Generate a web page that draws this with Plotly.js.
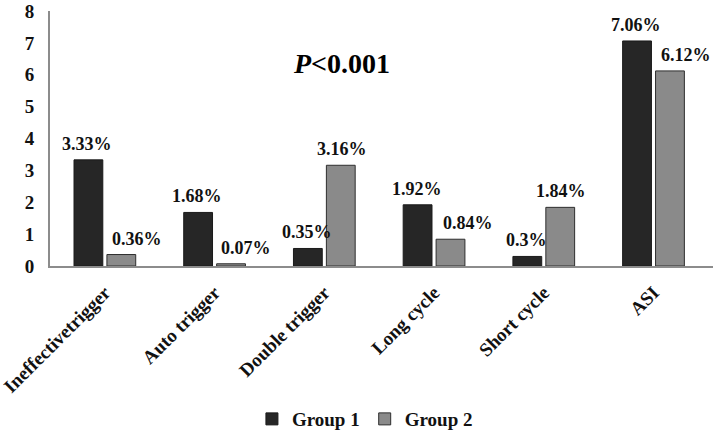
<!DOCTYPE html>
<html>
<head>
<meta charset="utf-8">
<script src="https://cdn.plot.ly/plotly-3.0.1.min.js"></script>
<style>html,body{margin:0;padding:0;background:#fff;}#chart{width:720px;height:432px;}</style>
</head>
<body>
<div id="chart"></div>
<script>
const categories = ["Ineffectivetrigger", "Auto trigger", "Double trigger", "Long cycle", "Short cycle", "ASI"];
const group1 = [3.33, 1.68, 0.55, 1.92, 0.30, 7.06];
const group2 = [0.36, 0.07, 3.16, 0.84, 1.84, 6.12];
const group1Labels = ["3.33%", "1.68%", "0.35%", "1.92%", "0.3%", "7.06%"];
const group2Labels = ["0.36%", "0.07%", "3.16%", "0.84%", "1.84%", "6.12%"];
const yTicks = [0, 1, 2, 3, 4, 5, 6, 7, 8];

// style: horizontal nudge of value labels (px)
const g2LabelNudge = [15, 14, 0, 16, 0, 15];

const FONT = "Times New Roman, Liberation Serif, serif";

const traces = [
  {type: 'bar', name: 'Group 1', x: categories, y: group1,
   marker: {color: '#262626', line: {color: '#1a1a1a', width: 1}}, hoverinfo: 'none'},
  {type: 'bar', name: 'Group 2', x: categories, y: group2,
   marker: {color: '#8a8a8a', line: {color: '#2e2e2e', width: 1}}, hoverinfo: 'none'}
];

const annotations = [];
categories.forEach((c, i) => {
  annotations.push({x: c, y: group1[i], xref: 'x', yref: 'y', text: '<b>' + group1Labels[i] + '</b>',
    showarrow: false, yanchor: 'bottom', yshift: 4, xshift: -17.5,
    font: {family: FONT, size: 18, color: '#111'}});
  annotations.push({x: c, y: group2[i], xref: 'x', yref: 'y', text: '<b>' + group2Labels[i] + '</b>',
    showarrow: false, yanchor: 'bottom', yshift: 4, xshift: 17.5 + g2LabelNudge[i],
    font: {family: FONT, size: 18, color: '#111'}});
});
annotations.push({xref: 'paper', yref: 'paper', x: 0.44, y: 0.795, xanchor: 'center', yanchor: 'middle',
  text: '<b><i>P</i>&lt;0.001</b>', showarrow: false,
  font: {family: FONT, size: 28, color: '#000'}});

const layout = {
  width: 720, height: 432,
  font: {family: FONT},
  margin: {l: 50, r: 7, t: 11, b: 166},
  paper_bgcolor: '#fff', plot_bgcolor: '#fff',
  barmode: 'group', bargap: 0.4, bargroupgap: 0.125,
  showlegend: true,
  legend: {orientation: 'h', x: 0.475, xanchor: 'center', yref: 'container', y: 0.03, yanchor: 'middle',
    itemwidth: 30, tracegroupgap: 0,
    font: {family: FONT, size: 19, color: '#111', weight: 'bold'}, traceorder: 'normal'},
  xaxis: {type: 'category', tickangle: -45, showgrid: false, zeroline: false,
    showline: true, linecolor: '#8c8c8c', linewidth: 2, ticks: '', ticklabelstandoff: 6,
    tickfont: {family: FONT, size: 19, color: '#111', weight: 'bold'}},
  yaxis: {range: [0, 8], tickvals: yTicks, showgrid: false, zeroline: false,
    showline: true, linecolor: '#8c8c8c', linewidth: 2, ticks: '', ticklabelstandoff: 10,
    tickfont: {family: FONT, size: 19, color: '#111', weight: 'bold'}},
  annotations: annotations
};

Plotly.newPlot('chart', traces, layout, {staticPlot: true, displayModeBar: false});
</script>
</body>
</html>
